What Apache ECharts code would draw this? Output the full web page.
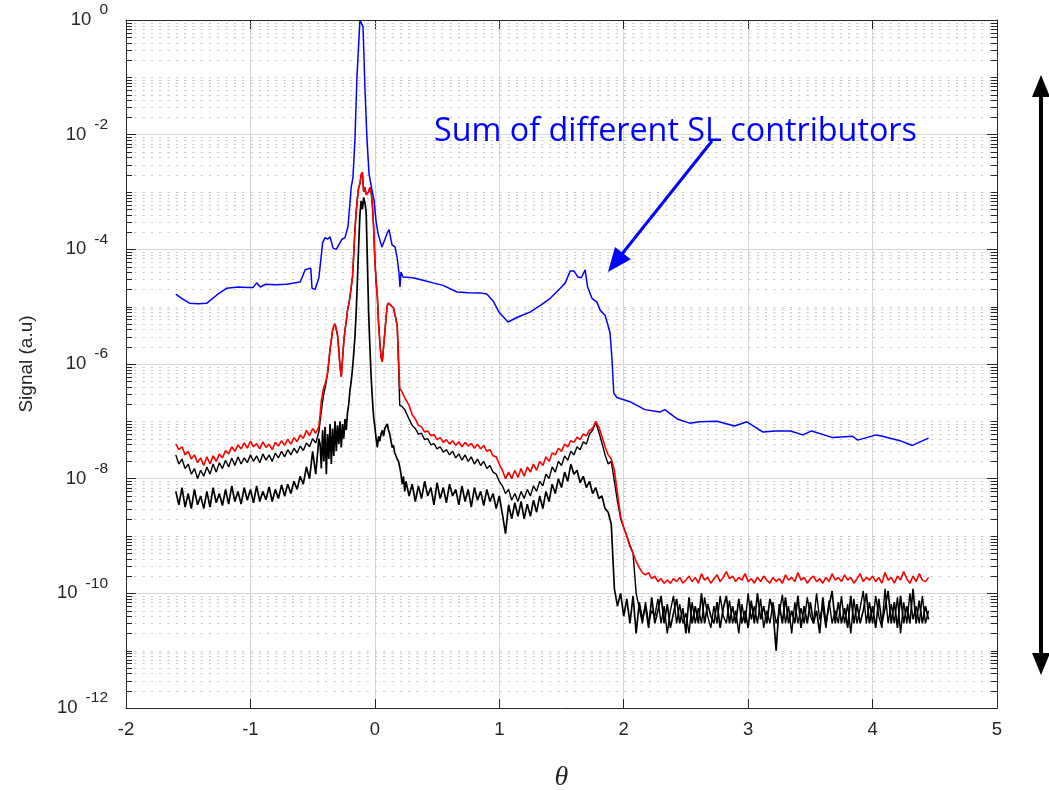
<!DOCTYPE html>
<html><head><meta charset="utf-8">
<script src="https://cdn.jsdelivr.net/npm/echarts@6/dist/echarts.min.js"></script>
<style>html,body{margin:0;padding:0;background:#fff}#chart{width:1049px;height:790px}</style>
</head><body><div id="chart"></div>
<script>
// ---------- x grids of the sampled curves ----------
const thetaL = [-1.6,-1.575,-1.55,-1.525,-1.5,-1.475,-1.45,-1.425,-1.4,-1.375,
-1.35,-1.325,-1.3,-1.275,-1.25,-1.225,-1.2,-1.175,-1.15,-1.125,
-1.1,-1.075,-1.05,-1.025,-1,-0.975,-0.95,-0.925,-0.9,-0.875,
-0.85,-0.825,-0.8,-0.775,-0.75,-0.725,-0.7,-0.675,-0.65,-0.625,
-0.6,-0.575,-0.55,-0.525,-0.5,-0.475,-0.45];
const thetaC = [-0.44,-0.43,-0.42,-0.41,-0.4,-0.39,-0.38,-0.37,-0.36,-0.35,
-0.34,-0.33,-0.32,-0.31,-0.3,-0.29,-0.28,-0.27,-0.26,-0.25,
-0.24,-0.23,-0.22,-0.21,-0.2,-0.19,-0.18,-0.17,-0.16,-0.15,
-0.14,-0.13,-0.12,-0.11,-0.1,-0.09,-0.08,-0.07,-0.06,-0.05,
-0.04,-0.03,-0.02,-0.01,0,0.01,0.02,0.03,0.04,0.05,
0.06,0.07,0.08,0.09,0.1,0.11,0.12,0.13,0.14,0.15,
0.16,0.17,0.18,0.19,0.2,0.21,0.22,0.23,0.24];
const thetaR = [0.25,0.275,0.3,0.325,0.35,0.375,0.4,0.425,0.45,0.475,
0.5,0.525,0.55,0.575,0.6,0.625,0.65,0.675,0.7,0.725,
0.75,0.775,0.8,0.825,0.85,0.875,0.9,0.925,0.95,0.975,
1,1.025,1.05,1.075,1.1,1.125,1.15,1.175,1.2,1.225,
1.25,1.275,1.3,1.325,1.35,1.375,1.4,1.425,1.45,1.475,
1.5,1.525,1.55,1.575,1.6,1.625,1.65,1.675,1.7,1.725,
1.75,1.775,1.8,1.825,1.85,1.875,1.9,1.925,1.95,1.975,
2,2.025,2.05,2.075,2.1,2.125,2.15,2.175,2.2,2.225,
2.25,2.275,2.3,2.325,2.35,2.375,2.4,2.425,2.45,2.475,
2.5,2.525,2.55,2.575,2.6,2.625,2.65,2.675,2.7,2.725,
2.75,2.775,2.8,2.825,2.85,2.875,2.9,2.925,2.95,2.975,
3,3.025,3.05,3.075,3.1,3.125,3.15,3.175,3.2,3.225,
3.25,3.275,3.3,3.325,3.35,3.375,3.4,3.425,3.45,3.475,
3.5,3.525,3.55,3.575,3.6,3.625,3.65,3.675,3.7,3.725,
3.75,3.775,3.8,3.825,3.85,3.875,3.9,3.925,3.95,3.975,
4,4.025,4.05,4.075,4.1,4.125,4.15,4.175,4.2,4.225,
4.25,4.275,4.3,4.325,4.35,4.375,4.4,4.425,4.45];

// ---------- red curve ----------
const redL = [4.0e-8,3.2e-8,3.6e-8,2.6e-8,3.0e-8,2.2e-8,2.6e-8,1.9e-8,2.3e-8,1.7e-8,
2.4e-8,1.8e-8,2.5e-8,2.0e-8,2.7e-8,2.3e-8,3.1e-8,2.7e-8,3.6e-8,3.0e-8,
3.9e-8,3.3e-8,4.2e-8,3.4e-8,4.5e-8,3.6e-8,4.1e-8,3.3e-8,4.4e-8,3.5e-8,
4.0e-8,3.2e-8,4.3e-8,3.7e-8,4.6e-8,3.8e-8,4.9e-8,4.0e-8,5.2e-8,4.4e-8,
5.8e-8,5.0e-8,7.0e-8,5.6e-8,7.5e-8,6.2e-8,8.0e-8];
const redC = [1.3e-7,2.3e-7,3.1e-7,4.0e-7,4.4e-7,5.5e-7,7.0e-7,1.1e-6,1.8e-6,2.6e-6,
3.8e-6,4.6e-6,5.0e-6,4.8e-6,3.2e-6,1.8e-6,9.0e-7,6.0e-7,1.2e-6,2.4e-6,
3.9e-6,5.5e-6,8.5e-6,1.1e-5,1.5e-5,2.2e-5,3.2e-5,8.0e-5,2.2e-4,4.5e-4,
8.0e-4,1.2e-3,1.4e-3,2.0e-3,2.2e-3,1.0e-3,1.2e-3,9.0e-4,8.5e-4,1.0e-3,
1.2e-3,1.0e-3,6.0e-4,2.5e-4,6.5e-5,2.8e-5,1.5e-5,5.0e-6,2.4e-6,1.3e-6,
1.1e-6,2.0e-6,3.5e-6,6.5e-6,1.05e-5,1.15e-5,1.12e-5,1.05e-5,1.0e-5,9.5e-6,
7.5e-6,6.0e-6,4.5e-6,1.4e-6,3.8e-7,3.6e-7,3.2e-7,2.9e-7,2.6e-7];
const redR = [2.5e-7,1.9e-7,1.3e-7,1.1e-7,8.5e-8,8.0e-8,6.5e-8,6.8e-8,5.6e-8,5.9e-8,
4.8e-8,5.2e-8,4.3e-8,4.8e-8,4.0e-8,4.6e-8,3.8e-8,4.4e-8,3.6e-8,4.3e-8,
3.7e-8,4.1e-8,3.4e-8,4.0e-8,3.3e-8,3.8e-8,3.0e-8,3.2e-8,2.5e-8,2.4e-8,
1.8e-8,1.4e-8,1.0e-8,1.3e-8,1.0e-8,1.4e-8,1.05e-8,1.5e-8,1.1e-8,1.6e-8,
1.3e-8,1.8e-8,1.4e-8,2.0e-8,1.7e-8,2.4e-8,2.0e-8,2.8e-8,2.6e-8,3.4e-8,
3.0e-8,4.0e-8,3.6e-8,4.6e-8,4.3e-8,5.3e-8,4.8e-8,6.0e-8,5.6e-8,7.0e-8,
7.5e-8,1.0e-7,8.0e-8,5.5e-8,3.6e-8,2.6e-8,2.2e-8,1.4e-8,5.5e-9,2.2e-9,
1.4e-9,1.0e-9,6.5e-10,5.0e-10,3.6e-10,2.8e-10,2.3e-10,2.1e-10,2.3e-10,1.8e-10,
2.0e-10,1.6e-10,1.8e-10,1.5e-10,1.7e-10,1.5e-10,1.8e-10,1.6e-10,1.9e-10,1.5e-10,
1.7e-10,2.0e-10,1.6e-10,1.9e-10,1.5e-10,2.2e-10,1.7e-10,1.9e-10,1.5e-10,1.8e-10,
2.1e-10,1.6e-10,1.9e-10,2.4e-10,1.8e-10,2.0e-10,1.6e-10,1.9e-10,1.7e-10,2.2e-10,
1.6e-10,1.8e-10,1.5e-10,1.9e-10,1.6e-10,2.0e-10,1.7e-10,1.5e-10,1.9e-10,1.6e-10,
1.8e-10,1.5e-10,2.1e-10,1.7e-10,1.9e-10,1.6e-10,2.3e-10,1.7e-10,1.9e-10,1.5e-10,
1.8e-10,2.0e-10,1.6e-10,1.8e-10,1.5e-10,1.9e-10,1.6e-10,2.2e-10,1.7e-10,1.9e-10,
1.6e-10,2.1e-10,1.7e-10,1.9e-10,1.5e-10,1.8e-10,2.2e-10,1.6e-10,1.9e-10,1.7e-10,
2.0e-10,1.6e-10,1.9e-10,1.5e-10,2.3e-10,1.7e-10,1.9e-10,1.5e-10,2.0e-10,1.7e-10,
2.4e-10,1.8e-10,1.5e-10,2.0e-10,1.6e-10,2.2e-10,1.7e-10,1.6e-10,1.9e-10];

// ---------- upper black curve ----------
const blkAL = [2.6e-8,1.8e-8,2.2e-8,1.5e-8,1.8e-8,1.2e-8,1.5e-8,1.0e-8,1.4e-8,1.1e-8,
1.6e-8,1.2e-8,1.8e-8,1.3e-8,1.9e-8,1.5e-8,2.1e-8,1.6e-8,2.3e-8,1.7e-8,
2.4e-8,1.8e-8,2.3e-8,1.9e-8,2.6e-8,2.0e-8,2.5e-8,1.9e-8,2.7e-8,2.1e-8,
2.6e-8,2.0e-8,2.8e-8,2.3e-8,3.0e-8,2.4e-8,3.2e-8,2.6e-8,3.4e-8,2.8e-8,
3.7e-8,3.1e-8,4.2e-8,3.6e-8,5.0e-8,4.2e-8,6.5e-8];
const blkAC = [1.0e-7,1.5e-7,2.2e-7,3.0e-7,3.8e-7,5.0e-7,6.8e-7,1.1e-6,1.8e-6,2.6e-6,
3.8e-6,4.6e-6,5.0e-6,4.8e-6,3.2e-6,1.8e-6,9.0e-7,6.0e-7,1.2e-6,2.4e-6,
3.9e-6,5.5e-6,8.5e-6,1.1e-5,1.5e-5,2.2e-5,3.2e-5,8.0e-5,2.2e-4,4.5e-4,
8.0e-4,1.2e-3,1.4e-3,2.0e-3,2.2e-3,1.0e-3,1.2e-3,9.0e-4,8.5e-4,1.0e-3,
1.2e-3,1.0e-3,6.0e-4,2.5e-4,6.5e-5,2.8e-5,1.5e-5,5.0e-6,2.4e-6,1.3e-6,
1.1e-6,2.0e-6,3.5e-6,6.5e-6,1.05e-5,1.15e-5,1.12e-5,1.05e-5,1.0e-5,9.5e-6,
7.5e-6,6.0e-6,4.5e-6,1.0e-6,1.9e-7,2.0e-7,1.8e-7,1.7e-7,1.6e-7];
const blkAR = [1.5e-7,1.1e-7,8.5e-8,7.5e-8,6.0e-8,6.2e-8,4.8e-8,5.0e-8,3.9e-8,4.1e-8,
3.3e-8,3.6e-8,2.9e-8,3.2e-8,2.6e-8,3.0e-8,2.3e-8,2.7e-8,2.1e-8,2.6e-8,
2.0e-8,2.4e-8,1.8e-8,2.2e-8,1.7e-8,2.0e-8,1.5e-8,1.7e-8,1.3e-8,1.2e-8,
9.0e-9,7.5e-9,5.5e-9,6.5e-9,4.2e-9,5.5e-9,4.0e-9,6.0e-9,4.5e-9,6.5e-9,
5.0e-9,7.5e-9,6.0e-9,9.0e-9,7.5e-9,1.2e-8,1.0e-8,1.6e-8,1.3e-8,2.0e-8,
1.7e-8,2.5e-8,2.1e-8,3.0e-8,2.6e-8,3.6e-8,3.2e-8,4.4e-8,4.0e-8,6.0e-8,
7.0e-8,9.5e-8,6.5e-8,4.2e-8,2.6e-8,1.8e-8,2.0e-8,9.0e-9,4.0e-9,2.0e-9,
1.4e-9,1.0e-9,7.0e-10,5.0e-10,1.0e-10,5.5e-11,3.0e-11,7.0e-11,3.0e-11,5.0e-11,
4.0e-11,8.0e-11,3.0e-11,6.0e-11,2.0e-11,5.0e-11,9.0e-11,3.0e-11,6.5e-11,3.0e-11,
4.5e-11,2.0e-11,7.0e-11,3.0e-11,5.5e-11,3.0e-11,8.5e-11,4.0e-11,2.5e-11,6.0e-11,
3.0e-11,9.0e-11,4.0e-11,3.0e-11,7.5e-11,3.0e-11,5.0e-11,2.0e-11,6.5e-11,3.0e-11,
1.0e-10,3.5e-11,6.0e-11,3.0e-11,8.0e-11,2.5e-11,5.0e-11,3.0e-11,7.0e-11,3.0e-11,
4.5e-11,9.5e-11,3.0e-11,6.0e-11,2.0e-11,7.0e-11,3.0e-11,5.5e-11,3.0e-11,8.5e-11,
4.0e-11,3.0e-11,1.0e-10,3.5e-11,6.0e-11,2.5e-11,7.5e-11,3.0e-11,5.0e-11,3.0e-11,
9.0e-11,3.0e-11,6.5e-11,2.0e-11,8.0e-11,3.0e-11,5.5e-11,1.1e-10,3.0e-11,7.0e-11,
3.0e-11,9.0e-11,4.0e-11,2.5e-11,1.2e-10,3.0e-11,6.5e-11,3.0e-11,8.5e-11,2.0e-11,
7.0e-11,3.0e-11,1.0e-10,3.5e-11,6.0e-11,3.0e-11,9.0e-11,3.0e-11,5.0e-11];

// ---------- lower black curve ----------
const blkBL = [6.0e-9,3.5e-9,7.0e-9,3.2e-9,5.5e-9,3.0e-9,6.5e-9,3.5e-9,5.0e-9,3.0e-9,
6.0e-9,3.2e-9,7.0e-9,3.8e-9,5.5e-9,3.4e-9,6.5e-9,3.6e-9,7.5e-9,4.0e-9,
6.0e-9,3.6e-9,7.0e-9,4.2e-9,6.5e-9,3.8e-9,7.5e-9,4.0e-9,6.0e-9,4.3e-9,
7.2e-9,4.0e-9,6.5e-9,4.5e-9,7.8e-9,5.0e-9,8.0e-9,5.5e-9,9.0e-9,6.5e-9,
1.1e-8,8.0e-9,1.6e-8,1.0e-8,3.0e-8,1.2e-8,5.0e-8];
const blkBC = [4.0e-8,1.5e-8,7.0e-8,2.0e-8,8.0e-8,1.2e-8,6.0e-8,2.2e-8,9.0e-8,1.8e-8,
7.5e-8,2.5e-8,1.0e-7,3.0e-8,8.5e-8,4.0e-8,1.0e-7,3.5e-8,9.0e-8,5.0e-8,
1.1e-7,7.0e-8,1.4e-7,2.0e-7,3.5e-7,5.0e-7,8.0e-7,1.5e-6,3.0e-6,8.0e-6,
3.0e-5,1.2e-4,4.0e-4,7.0e-4,5.0e-4,8.0e-4,6.5e-4,4.5e-4,6.0e-5,8.0e-6,
2.0e-6,6.0e-7,2.5e-7,1.2e-7,8.0e-8,5.0e-8,3.5e-8,5.5e-8,4.5e-8,6.0e-8,
7.0e-8,5.5e-8,7.5e-8,8.0e-8,9.0e-8,7.0e-8,6.0e-8,4.5e-8,3.5e-8,3.8e-8,
2.8e-8,3.0e-8,2.2e-8,2.0e-8,1.6e-8,1.2e-8,8.0e-9,1.1e-8,6.0e-9];
const blkBR = [9.0e-9,5.0e-9,8.0e-9,4.0e-9,7.5e-9,4.5e-9,9.0e-9,5.0e-9,7.0e-9,3.5e-9,
8.5e-9,4.5e-9,7.0e-9,3.8e-9,8.0e-9,5.0e-9,6.5e-9,3.5e-9,7.5e-9,4.0e-9,
6.5e-9,3.2e-9,7.0e-9,4.2e-9,6.0e-9,3.4e-9,6.5e-9,4.0e-9,5.5e-9,3.0e-9,
5.0e-9,2.4e-9,1.1e-9,3.5e-9,2.0e-9,3.8e-9,2.2e-9,4.0e-9,2.0e-9,3.6e-9,
2.2e-9,4.2e-9,2.6e-9,5.0e-9,3.0e-9,6.0e-9,4.0e-9,8.0e-9,5.5e-9,1.0e-8,
7.0e-9,1.3e-8,9.0e-9,1.8e-8,1.2e-8,1.4e-8,8.5e-9,1.1e-8,7.0e-9,9.0e-9,
5.5e-9,7.0e-9,4.5e-9,5.0e-9,3.0e-9,2.6e-9,1.6e-9,1.2e-10,6.0e-11,1.0e-10,
4.0e-11,8.0e-11,3.0e-11,9.0e-11,2.0e-11,7.0e-11,3.5e-11,6.0e-11,2.5e-11,8.5e-11,
3.0e-11,5.0e-11,9.0e-11,3.0e-11,6.5e-11,2.5e-11,4.5e-11,8.0e-11,3.0e-11,5.5e-11,
2.0e-11,8.5e-11,3.0e-11,6.0e-11,3.0e-11,1.0e-10,3.0e-11,6.5e-11,4.0e-11,3.0e-11,
7.0e-11,2.5e-11,5.5e-11,9.0e-11,3.0e-11,6.0e-11,3.0e-11,8.0e-11,3.0e-11,5.0e-11,
2.5e-11,7.5e-11,3.0e-11,1.0e-10,3.5e-11,6.0e-11,3.0e-11,8.0e-11,5.0e-11,1.0e-11,
6.5e-11,3.0e-11,8.5e-11,3.0e-11,5.0e-11,3.0e-11,9.0e-11,2.5e-11,6.0e-11,3.0e-11,
7.0e-11,3.0e-11,5.0e-11,2.0e-11,8.5e-11,3.0e-11,6.0e-11,1.1e-10,3.0e-11,7.0e-11,
3.0e-11,5.5e-11,2.5e-11,9.0e-11,3.0e-11,6.5e-11,3.0e-11,5.0e-11,1.0e-10,3.0e-11,
6.0e-11,2.5e-11,8.0e-11,3.0e-11,5.5e-11,1.1e-10,3.0e-11,7.0e-11,2.5e-11,9.0e-11,
3.0e-11,6.0e-11,3.0e-11,1.2e-10,3.0e-11,7.5e-11,3.0e-11,6.0e-11,3.5e-11];

// ---------- blue curve (sum of SL contributors) ----------
const thetaSum = [-1.6,-1.55,-1.49,-1.42,-1.35,-1.27,-1.19,-1.1,-1.02,-0.98,
-0.95,-0.92,-0.88,-0.8,-0.71,-0.6,-0.56,-0.515,-0.505,-0.48,
-0.45,-0.43,-0.42,-0.4,-0.38,-0.36,-0.336,-0.31,-0.29,-0.264,
-0.24,-0.216,-0.19,-0.176,-0.16,-0.144,-0.12,-0.095,-0.08,-0.063,
-0.047,-0.023,-0.007,0.009,0.025,0.057,0.081,0.098,0.114,0.138,
0.162,0.178,0.194,0.202,0.21,0.226,0.306,0.387,0.467,0.548,
0.66,0.75,0.845,0.9,0.95,1,1.07,1.15,1.25,1.33,
1.41,1.5,1.53,1.57,1.6,1.63,1.66,1.69,1.71,1.745,
1.785,1.81,1.85,1.866,1.89,1.906,1.92,1.945,2.05,2.17,
2.29,2.33,2.43,2.53,2.61,2.75,2.89,2.99,3.12,3.22,
3.34,3.44,3.51,3.68,3.84,3.88,4.03,4.08,4.22,4.32,4.45];
const sumSL = [1.66e-5,1.38e-5,1.15e-5,1.12e-5,1.15e-5,1.6e-5,2.1e-5,2.2e-5,2.15e-5,2.15e-5,
2.6e-5,2.2e-5,2.45e-5,2.4e-5,2.45e-5,2.7e-5,4.4e-5,4.7e-5,2.1e-5,2.0e-5,
3.2e-5,7.9e-5,1.3e-4,1.6e-4,1.5e-4,1.65e-4,1.05e-4,1.0e-4,1.2e-4,1.5e-4,
1.6e-4,2.5e-4,1.2e-3,1.8e-3,8.1e-3,0.1,1.0,0.76,0.068,8.1e-3,
2.1e-3,1.07e-3,7.2e-4,3.2e-4,1.9e-4,1.1e-4,1.5e-4,1.9e-4,2.2e-4,1.2e-4,
1.1e-4,7.4e-5,3.9e-5,2.2e-5,4.0e-5,3.3e-5,3.2e-5,2.9e-5,2.6e-5,2.35e-5,
1.8e-5,1.75e-5,1.74e-5,1.66e-5,1.26e-5,7.9e-6,5.4e-6,6.6e-6,8.1e-6,1.05e-5,
1.4e-5,2.2e-5,2.6e-5,4.2e-5,4.2e-5,3.3e-5,3.2e-5,4.4e-5,2.2e-5,1.4e-5,
1.2e-5,8.7e-6,7.1e-6,5.4e-6,3.5e-6,1.2e-6,3.1e-7,2.6e-7,2.2e-7,1.6e-7,
1.45e-7,1.6e-7,1.1e-7,9.3e-8,9.8e-8,1.0e-7,8.3e-8,9.8e-8,6.5e-8,6.8e-8,
6.8e-8,5.8e-8,6.8e-8,5.2e-8,5.5e-8,4.7e-8,5.8e-8,5.5e-8,4.6e-8,3.8e-8,5.1e-8];

// ---------- axis ticks ----------
const xTicks = {min: -2, max: 5, interval: 1};
const yRange = {min: 1e-12, max: 1};
const minorMantissas = [2,3,4,5,6,7,8,9];
const minorDecades = [-12,-11,-10,-9,-8,-7,-6,-5,-4,-3,-2,-1];
const oddDecadeTicks = [1e-11,1e-9,1e-7,1e-5,1e-3,1e-1];

const annotationText = 'Sum of different SL contributors';
const yName = 'Signal (a.u)';
const xName = '\u03b8';

function zip(xs, ys){ const n = Math.min(xs.length, ys.length); const o = []; for (let i=0;i<n;i++) o.push([xs[i], ys[i]]); return o; }
const theta = thetaL.concat(thetaC, thetaR);
const red = redL.concat(redC, redR);
const blkA = blkAL.concat(blkAC, blkAR);
const blkB = blkBL.concat(blkBC, blkBR);

const minorLevels = oddDecadeTicks.slice();
minorDecades.forEach(d => minorMantissas.forEach(m => minorLevels.push(m * Math.pow(10, d))));

const FONT = "'Liberation Sans', Arial, Helvetica, sans-serif";
const AX = '#262626';

const chart = echarts.init(document.getElementById('chart'), null, {renderer: 'canvas'});

function lineSeries(name, data, color, width, z){
  return {name, type:'line', data, showSymbol:false, symbol:'none', z,
    lineStyle:{color, width}, itemStyle:{color}, animation:false, emphasis:{disabled:true}};
}

const option = {
  backgroundColor: '#ffffff',
  animation: false,
  grid: {left: 126, right: 52, top: 20, bottom: 82, containLabel: false, outerBoundsMode: 'none'},
  xAxis: [
    {type:'value', min:xTicks.min, max:xTicks.max, interval:xTicks.interval, position:'bottom',
     name: xName, nameLocation:'middle', nameGap: 56,
     nameTextStyle:{fontFamily:"'Liberation Serif','DejaVu Serif',serif", fontStyle:'italic', fontSize:28, color:AX},
     axisLine:{show:true, onZero:false, lineStyle:{color:AX, width:1}},
     axisTick:{show:true, inside:true, length:9, lineStyle:{color:AX}},
     axisLabel:{color:AX, fontSize:18.5, fontFamily:FONT, margin:12},
     splitLine:{show:true, lineStyle:{color:'#d6d6d6', width:1}}},
    {type:'value', min:xTicks.min, max:xTicks.max, interval:xTicks.interval, position:'top',
     axisLine:{show:true, onZero:false, lineStyle:{color:AX, width:1}},
     axisTick:{show:true, inside:true, length:9, lineStyle:{color:AX}},
     axisLabel:{show:false}, splitLine:{show:false}}
  ],
  yAxis: [
    {type:'log', logBase:10, min:yRange.min, max:yRange.max, interval:2, splitNumber:6, position:'left',
     name: yName, nameLocation:'middle', nameGap: 90, nameRotate: 90,
     nameTextStyle:{fontFamily:FONT, fontSize:19, color:AX},
     axisLine:{show:true, onZero:false, lineStyle:{color:AX, width:1}},
     axisTick:{show:true, inside:true, length:10, lineStyle:{color:AX}},
     axisLabel:{margin:18, color:AX, fontFamily:FONT,
       formatter: v => '{b|10}{e|' + Math.round(Math.log10(v)) + '}',
       rich:{
         b:{fontSize:18.5, fontFamily:FONT, color:AX, lineHeight:20, padding:[10,0,10,0]},
         e:{fontSize:15.5, fontFamily:FONT, color:AX, lineHeight:20, padding:[0,0,20,8]}
       }},
     splitLine:{show:true, lineStyle:{color:'#d6d6d6', width:1}}},
    {type:'log', logBase:10, min:yRange.min, max:yRange.max, interval:2, splitNumber:6, position:'right',
     axisLine:{show:true, onZero:false, lineStyle:{color:AX, width:1}},
     axisTick:{show:true, inside:true, length:10, lineStyle:{color:AX}},
     axisLabel:{show:false}, splitLine:{show:false}}
  ],
  series: [
    {type:'custom', name:'minor', xAxisIndex:0, yAxisIndex:0, z:1, silent:true, animation:false,
     data: minorLevels.map(v => [xTicks.min, v]),
     renderItem: function(params, api){
       const p = api.coord([xTicks.min, api.value(1)]);
       const cs = params.coordSys;
       const y = Math.round(p[1]) + 0.5;
       return {type:'group', children:[
         {type:'line', shape:{x1:cs.x, y1:y, x2:cs.x+cs.width, y2:y}, style:{stroke:'#c6c6c6', lineWidth:1, lineDash:[2,6.3]}},
         {type:'line', shape:{x1:cs.x, y1:y, x2:cs.x+6, y2:y}, style:{stroke:AX, lineWidth:1}},
         {type:'line', shape:{x1:cs.x+cs.width-6, y1:y, x2:cs.x+cs.width, y2:y}, style:{stroke:AX, lineWidth:1}}
       ]};
     }},
    lineSeries('blackB', zip(theta, blkB), '#000000', 1.7, 2),
    lineSeries('blackA', zip(theta, blkA), '#000000', 1.4, 3),
    lineSeries('red', zip(theta, red), '#ff0000', 1.6, 4),
    lineSeries('sum', zip(thetaSum, sumSL), '#0000ff', 1.5, 5)
  ],
  graphic: [
    {type:'text', left:434, top:116, z:10,
     style:{text:annotationText, fill:'#0000ff', font:"32.3px 'Open Sans', 'Noto Sans', sans-serif"}},
    {type:'line', z:10, shape:{x1:712, y1:141, x2:618, y2:259}, style:{stroke:'#0000ff', lineWidth:3}},
    {type:'polygon', z:10, shape:{points:[[608,272],[630.8,259.3],[615.0,246.9]]}, style:{fill:'#0000ff'}},
    {type:'line', z:10, shape:{x1:1041, y1:92, x2:1041, y2:658}, style:{stroke:'#000000', lineWidth:4}},
    {type:'polygon', z:10, shape:{points:[[1041,75],[1050,97],[1032,97]]}, style:{fill:'#000000'}},
    {type:'polygon', z:10, shape:{points:[[1041,675],[1050,653],[1032,653]]}, style:{fill:'#000000'}}
  ]
};
chart.setOption(option);
</script>
</body></html>
